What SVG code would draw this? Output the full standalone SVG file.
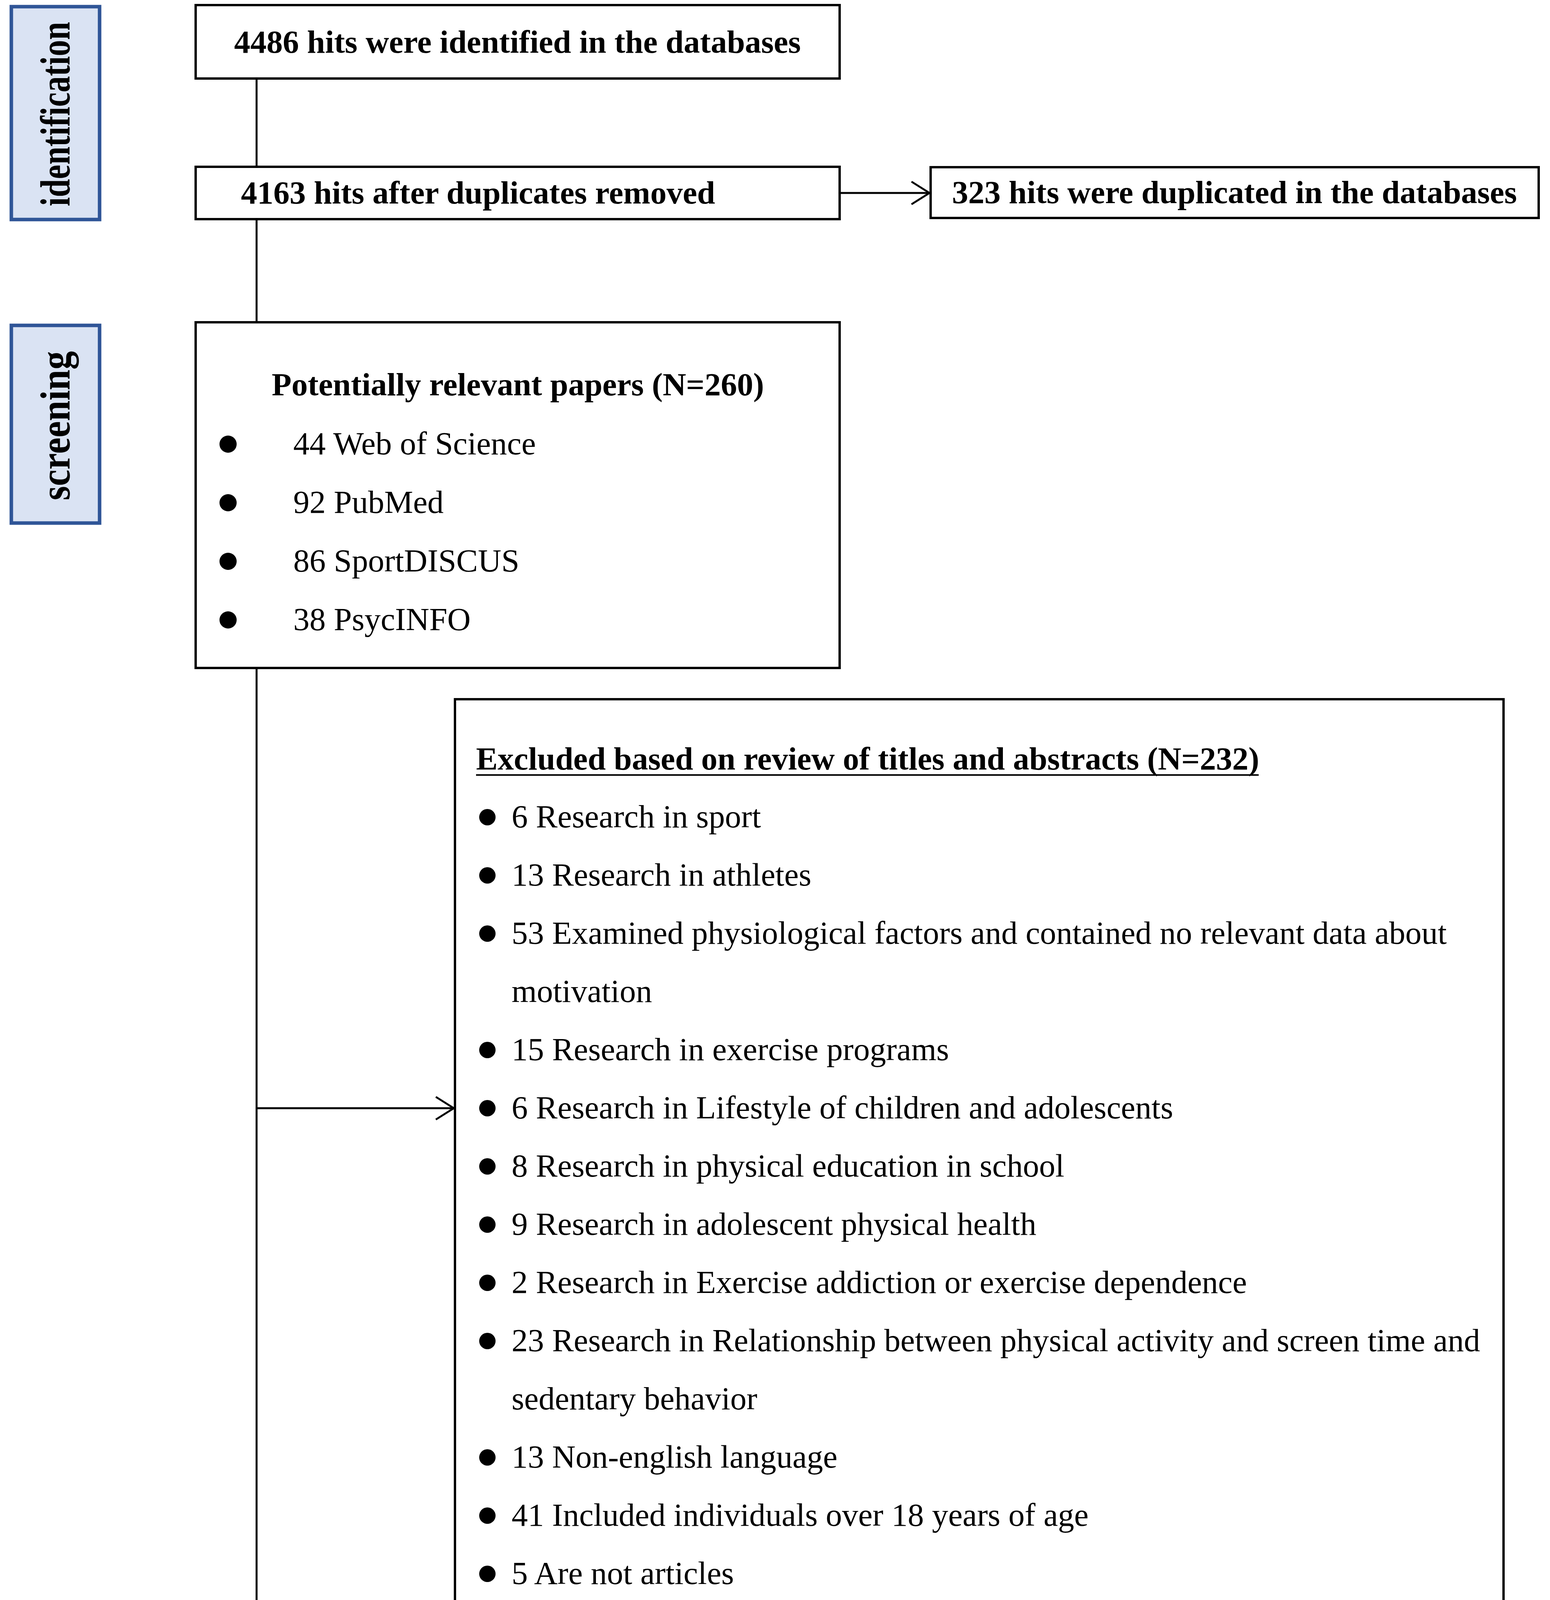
<svg xmlns="http://www.w3.org/2000/svg" width="3969" height="5950" viewBox="0 0 3969 5950">
<style>
.box{fill:#fff;stroke:#000;stroke-width:6}
.lab{fill:#DAE3F3;stroke:#2F5597;stroke-width:9}
.t{font-family:"Liberation Serif","Times New Roman",serif;font-size:83px;fill:#000}
.b{font-weight:bold}
.lt{font-family:"Liberation Serif","Times New Roman",serif;font-weight:bold;font-size:108px;fill:#000}
.c{stroke:#000;stroke-width:5;fill:none}
.ul{stroke:#000;stroke-width:4}
.dot{fill:#000}
</style>
<defs>
<marker id="arr" markerUnits="userSpaceOnUse" markerWidth="60" markerHeight="70" viewBox="0 0 60 70" refX="52" refY="35" orient="auto">
<path d="M6,6 L52,35 L6,64" fill="none" stroke="#000" stroke-width="5"/>
</marker>
</defs>
<rect width="3969" height="5950" fill="#fff"/>

<g id="labels">
<g id="lab-identification"><rect class="lab" x="29" y="17" width="226" height="545"/><text class="lt" transform="translate(178,292) rotate(-90)" text-anchor="middle" textLength="472" lengthAdjust="spacingAndGlyphs">identification</text></g>
<g id="lab-screening"><rect class="lab" x="29" y="833" width="226" height="506"/><text class="lt" transform="translate(178,1090) rotate(-90)" text-anchor="middle" textLength="382" lengthAdjust="spacingAndGlyphs">screening</text></g>
<g id="lab-eligibility"><rect class="lab" x="56" y="4242" width="217" height="457"/><text class="lt" transform="translate(201,4476) rotate(-90)" text-anchor="middle" textLength="377" lengthAdjust="spacingAndGlyphs">eligibility</text></g>
<g id="lab-inclusion"><rect class="lab" x="56" y="5448" width="217" height="462"/><text class="lt" transform="translate(201,5675) rotate(-90)" text-anchor="middle" textLength="357" lengthAdjust="spacingAndGlyphs">inclusion</text></g>
</g>

<g id="connectors">
<line class="c" x1="657" y1="201" x2="657" y2="427"/>
<line class="c" x1="657" y1="561" x2="657" y2="825"/>
<line class="c" x1="657" y1="1710" x2="657" y2="4468"/>
<line class="c" x1="657" y1="4697" x2="657" y2="5679"/>
<line class="c" x1="2150" y1="494" x2="2380" y2="494" marker-end="url(#arr)"/>
<line class="c" x1="657" y1="2837" x2="1162" y2="2837" marker-end="url(#arr)"/>
<line class="c" x1="657" y1="5171" x2="1162" y2="5171" marker-end="url(#arr)"/>
</g>

<g id="n-identified"><rect class="box" x="501" y="13" width="1649" height="188"/><text class="t b" x="1325" y="135" text-anchor="middle">4486 hits were identified in the databases</text></g>

<g id="n-after-dup"><rect class="box" x="501" y="427" width="1649" height="134"/><text class="t b" x="617" y="521">4163 hits after duplicates removed</text></g>

<g id="n-duplicated"><rect class="box" x="2383" y="428" width="1557" height="130"/><text class="t b" x="3161" y="520" text-anchor="middle">323 hits were duplicated in the databases</text></g>

<g id="n-potential"><rect class="box" x="501" y="825" width="1649" height="885"/>
<text class="t b" x="1326" y="1012" text-anchor="middle">Potentially relevant papers (N=260)</text>
<circle class="dot" cx="584" cy="1137" r="22"/><text class="t" x="751" y="1163">44 Web of Science</text>
<circle class="dot" cx="584" cy="1287" r="22"/><text class="t" x="751" y="1313">92 PubMed</text>
<circle class="dot" cx="584" cy="1437" r="22"/><text class="t" x="751" y="1463">86 SportDISCUS</text>
<circle class="dot" cx="584" cy="1587" r="22"/><text class="t" x="751" y="1613">38 PsycINFO</text>
</g>

<g id="n-excluded-abstracts"><rect class="box" x="1165" y="1790" width="2685" height="2654"/>
<text class="t b" x="1219" y="1970">Excluded based on review of titles and abstracts (N=232)</text>
<line class="ul" x1="1219" y1="1984" x2="3223" y2="1984"/>
<g class="dot">
<circle cx="1248" cy="2092" r="21"/><circle cx="1248" cy="2241" r="21"/><circle cx="1248" cy="2390" r="21"/>
<circle cx="1248" cy="2688" r="21"/><circle cx="1248" cy="2837" r="21"/><circle cx="1248" cy="2986" r="21"/>
<circle cx="1248" cy="3135" r="21"/><circle cx="1248" cy="3284" r="21"/><circle cx="1248" cy="3433" r="21"/>
<circle cx="1248" cy="3731" r="21"/><circle cx="1248" cy="3880" r="21"/><circle cx="1248" cy="4029" r="21"/>
<circle cx="1248" cy="4178" r="21"/><circle cx="1248" cy="4327" r="21"/>
</g>
<text class="t" x="1310" y="2118">6 Research in sport</text>
<text class="t" x="1310" y="2267">13 Research in athletes</text>
<text class="t" x="1310" y="2416">53 Examined physiological factors and contained no relevant data about</text>
<text class="t" x="1310" y="2565">motivation</text>
<text class="t" x="1310" y="2714">15 Research in exercise programs</text>
<text class="t" x="1310" y="2863">6 Research in Lifestyle of children and adolescents</text>
<text class="t" x="1310" y="3012">8 Research in physical education in school</text>
<text class="t" x="1310" y="3161">9 Research in adolescent physical health</text>
<text class="t" x="1310" y="3310">2 Research in Exercise addiction or exercise dependence</text>
<text class="t" x="1310" y="3459">23 Research in Relationship between physical activity and screen time and</text>
<text class="t" x="1310" y="3608">sedentary behavior</text>
<text class="t" x="1310" y="3757">13 Non-english language</text>
<text class="t" x="1310" y="3906">41 Included individuals over 18 years of age</text>
<text class="t" x="1310" y="4055">5 Are not articles</text>
<text class="t" x="1310" y="4204">17 Systematic review</text>
<text class="t" x="1310" y="4353">21 NO relevant data</text>
</g>

<g id="n-fulltext"><rect class="box" x="552" y="4468" width="1828" height="229"/><text class="t b" x="1466" y="4611" text-anchor="middle">Full-text papers reviewed (N=28)</text></g>

<g id="n-excluded-fulltext"><rect class="box" x="1165" y="4799" width="2716" height="751"/>
<text class="t b" x="2523" y="4953" text-anchor="middle" xml:space="preserve">Papers excluded after full-text papers  reviewed (N=21)</text>
<line class="ul" x1="1544" y1="4967" x2="3501" y2="4967"/>
<circle class="dot" cx="1248" cy="5126" r="21"/><text class="t" x="1309" y="5152">6 Systematic review</text>
<circle class="dot" cx="1248" cy="5225" r="21"/><text class="t" x="1309" y="5251">4 Redundant data</text>
<circle class="dot" cx="1248" cy="5324" r="21"/><text class="t" x="1309" y="5350">7 No relevant or comparable data</text>
<circle class="dot" cx="1248" cy="5423" r="21"/><text class="t" x="1309" y="5449">4 Research in Relationship between exercise and emotional response</text>
</g>

<g id="n-included"><rect class="box" x="501" y="5679" width="1828" height="228"/><text class="t b" x="1415" y="5820" text-anchor="middle">Articles included in the analysis (N=7)</text></g>
</svg>
